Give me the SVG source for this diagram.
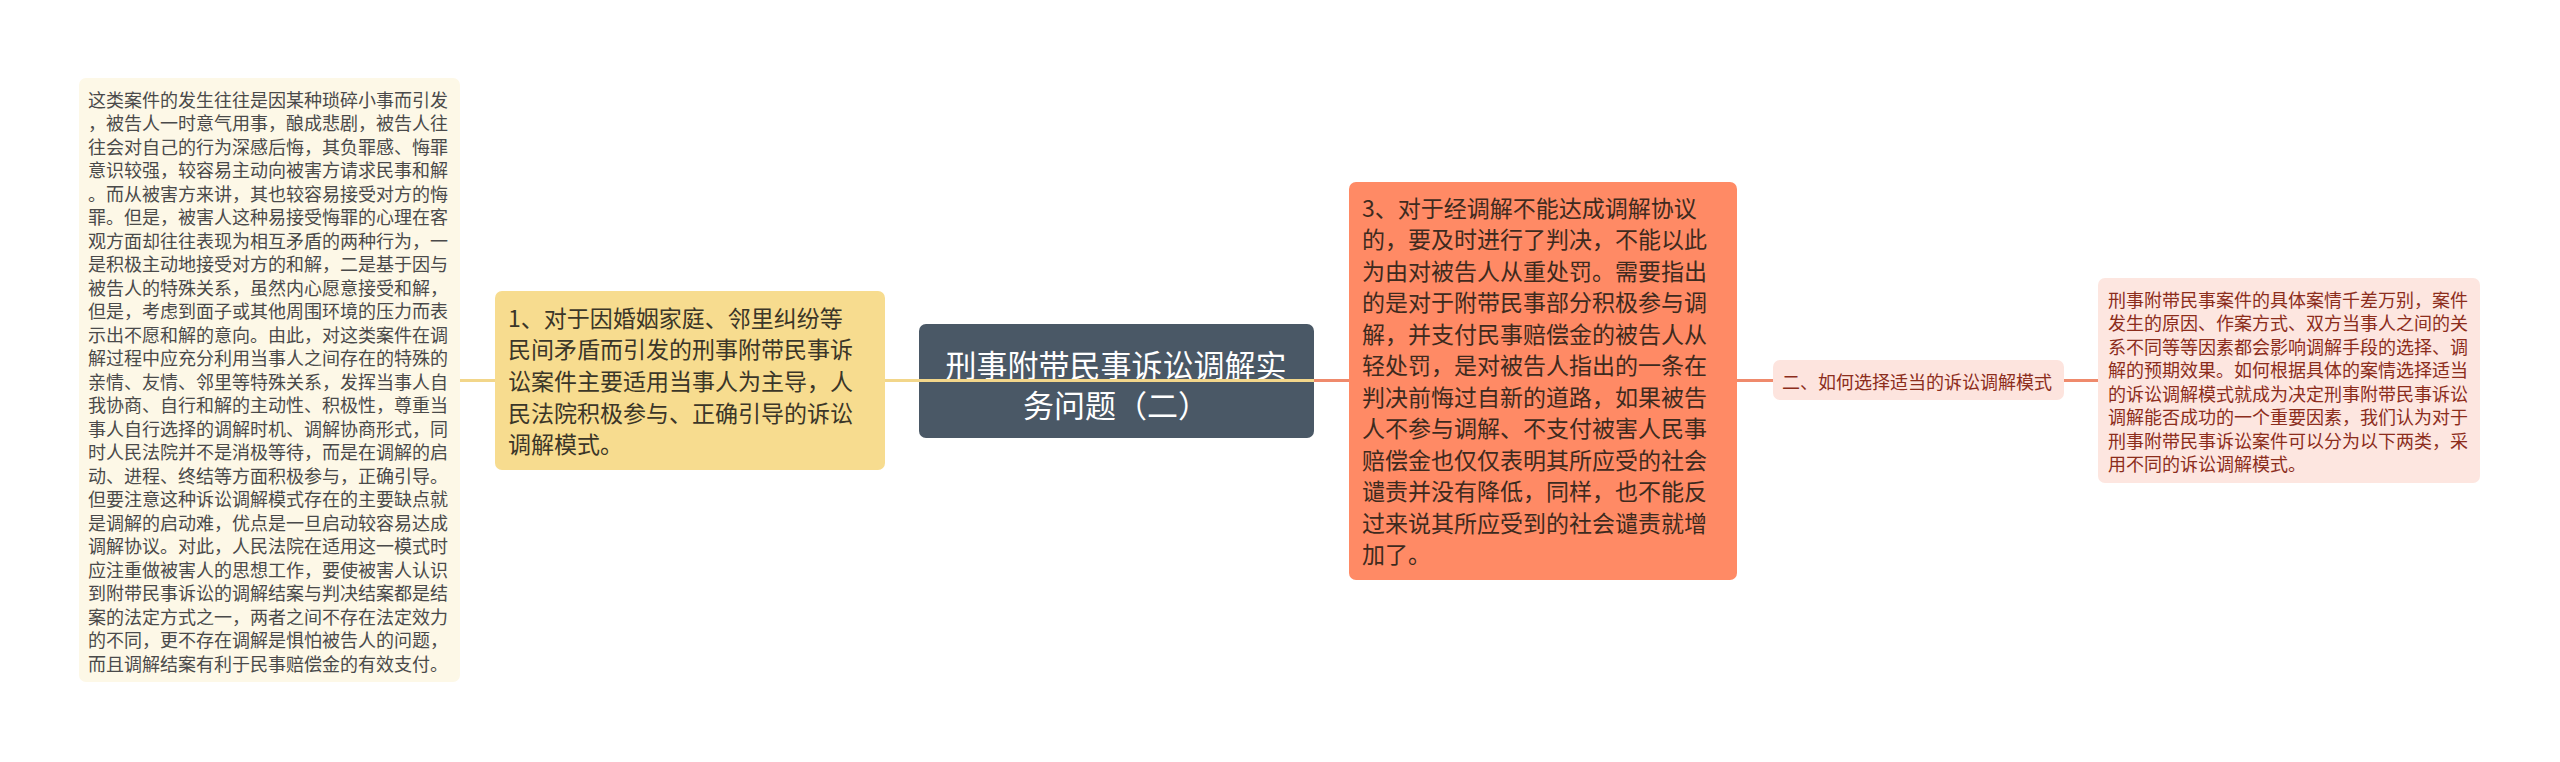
<svg xmlns="http://www.w3.org/2000/svg" width="2560" height="762" viewBox="0 0 2560 762">
<style>
text{font-family:"Noto Sans CJK SC","Noto Sans",sans-serif;}
.lt{font-size:18px;fill:#4a4a4a;}
.yt{font-size:23px;fill:#3b3628;}
.ct{font-size:31px;fill:#ffffff;text-anchor:middle;}
.ot{font-size:23px;fill:#3e2a1e;}
.pt{font-size:18px;fill:#8c2d1c;}
.cy{stroke:#f2d68a;stroke-width:3;fill:none;}
.co{stroke:#ef8a6c;stroke-width:3;fill:none;}
</style>
<rect width="2560" height="762" fill="#ffffff"/>
<g id="node-center">
<rect x="919" y="324" width="395" height="114" rx="7" fill="#4a5866"/>
<text class="ct" x="1116" y="377">刑事附带民事诉讼调解实</text>
<text class="ct" x="1116" y="417">务问题（二）</text>
</g>
<g id="connectors">
<line class="cy" x1="460" y1="380.5" x2="495" y2="380.5"/>
<line class="cy" x1="885" y1="380.5" x2="1314" y2="380.5"/>
<line class="co" x1="1314" y1="380.5" x2="1349" y2="380.5"/>
<line class="co" x1="1737" y1="380.5" x2="1773" y2="380.5"/>
<line class="co" x1="2064" y1="380.5" x2="2098" y2="380.5"/>
</g>
<g id="node-left-detail">
<rect x="79" y="78" width="381" height="604" rx="7" fill="#fdf8e7"/>
<text class="lt">
<tspan x="88" y="106.8">这类案件的发生往往是因某种琐碎小事而引发</tspan>
<tspan x="88" y="130.3">，被告人一时意气用事，酿成悲剧，被告人往</tspan>
<tspan x="88" y="153.8">往会对自己的行为深感后悔，其负罪感、悔罪</tspan>
<tspan x="88" y="177.3">意识较强，较容易主动向被害方请求民事和解</tspan>
<tspan x="88" y="200.8">。而从被害方来讲，其也较容易接受对方的悔</tspan>
<tspan x="88" y="224.3">罪。但是，被害人这种易接受悔罪的心理在客</tspan>
<tspan x="88" y="247.8">观方面却往往表现为相互矛盾的两种行为，一</tspan>
<tspan x="88" y="271.3">是积极主动地接受对方的和解，二是基于因与</tspan>
<tspan x="88" y="294.8">被告人的特殊关系，虽然内心愿意接受和解，</tspan>
<tspan x="88" y="318.3">但是，考虑到面子或其他周围环境的压力而表</tspan>
<tspan x="88" y="341.8">示出不愿和解的意向。由此，对这类案件在调</tspan>
<tspan x="88" y="365.3">解过程中应充分利用当事人之间存在的特殊的</tspan>
<tspan x="88" y="388.8">亲情、友情、邻里等特殊关系，发挥当事人自</tspan>
<tspan x="88" y="412.3">我协商、自行和解的主动性、积极性，尊重当</tspan>
<tspan x="88" y="435.8">事人自行选择的调解时机、调解协商形式，同</tspan>
<tspan x="88" y="459.3">时人民法院并不是消极等待，而是在调解的启</tspan>
<tspan x="88" y="482.8">动、进程、终结等方面积极参与，正确引导。</tspan>
<tspan x="88" y="506.3">但要注意这种诉讼调解模式存在的主要缺点就</tspan>
<tspan x="88" y="529.8">是调解的启动难，优点是一旦启动较容易达成</tspan>
<tspan x="88" y="553.3">调解协议。对此，人民法院在适用这一模式时</tspan>
<tspan x="88" y="576.8">应注重做被害人的思想工作，要使被害人认识</tspan>
<tspan x="88" y="600.3">到附带民事诉讼的调解结案与判决结案都是结</tspan>
<tspan x="88" y="623.8">案的法定方式之一，两者之间不存在法定效力</tspan>
<tspan x="88" y="647.3">的不同，更不存在调解是惧怕被告人的问题，</tspan>
<tspan x="88" y="670.8">而且调解结案有利于民事赔偿金的有效支付。</tspan>
</text>
</g>
<g id="node-yellow">
<rect x="495" y="291" width="390" height="179" rx="7" fill="#f7dc8f"/>
<text class="yt">
<tspan x="508" y="326.7">1、对于因婚姻家庭、邻里纠纷等</tspan>
<tspan x="508" y="358.3">民间矛盾而引发的刑事附带民事诉</tspan>
<tspan x="508" y="389.9">讼案件主要适用当事人为主导，人</tspan>
<tspan x="508" y="421.5">民法院积极参与、正确引导的诉讼</tspan>
<tspan x="508" y="453.1">调解模式。</tspan>
</text>
</g>
<g id="node-orange">
<rect x="1349" y="182" width="388" height="398" rx="7" fill="#ff8a65"/>
<text class="ot">
<tspan x="1362" y="216.7">3、对于经调解不能达成调解协议</tspan>
<tspan x="1362" y="248.2">的，要及时进行了判决，不能以此</tspan>
<tspan x="1362" y="279.7">为由对被告人从重处罚。需要指出</tspan>
<tspan x="1362" y="311.2">的是对于附带民事部分积极参与调</tspan>
<tspan x="1362" y="342.7">解，并支付民事赔偿金的被告人从</tspan>
<tspan x="1362" y="374.2">轻处罚，是对被告人指出的一条在</tspan>
<tspan x="1362" y="405.7">判决前悔过自新的道路，如果被告</tspan>
<tspan x="1362" y="437.2">人不参与调解、不支付被害人民事</tspan>
<tspan x="1362" y="468.7">赔偿金也仅仅表明其所应受的社会</tspan>
<tspan x="1362" y="500.2">谴责并没有降低，同样，也不能反</tspan>
<tspan x="1362" y="531.7">过来说其所应受到的社会谴责就增</tspan>
<tspan x="1362" y="563.2">加了。</tspan>
</text>
</g>
<g id="node-label">
<rect x="1773" y="360" width="291" height="40" rx="7" fill="#fde4de"/>
<text class="pt" x="1782" y="388.8">二、如何选择适当的诉讼调解模式</text>
</g>
<g id="node-right-detail">
<rect x="2098" y="278" width="382" height="205" rx="7" fill="#fde6e0"/>
<text class="pt">
<tspan x="2108" y="306.8">刑事附带民事案件的具体案情千差万别，案件</tspan>
<tspan x="2108" y="330.3">发生的原因、作案方式、双方当事人之间的关</tspan>
<tspan x="2108" y="353.8">系不同等等因素都会影响调解手段的选择、调</tspan>
<tspan x="2108" y="377.3">解的预期效果。如何根据具体的案情选择适当</tspan>
<tspan x="2108" y="400.8">的诉讼调解模式就成为决定刑事附带民事诉讼</tspan>
<tspan x="2108" y="424.3">调解能否成功的一个重要因素，我们认为对于</tspan>
<tspan x="2108" y="447.8">刑事附带民事诉讼案件可以分为以下两类，采</tspan>
<tspan x="2108" y="471.3">用不同的诉讼调解模式。</tspan>
</text>
</g>
</svg>
